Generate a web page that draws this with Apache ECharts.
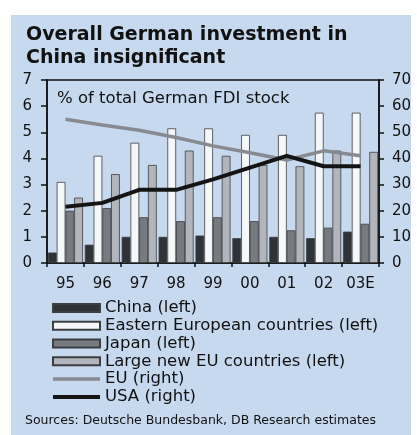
<!DOCTYPE html>
<html>
<head>
<meta charset="utf-8">
<script src="https://cdn.jsdelivr.net/npm/echarts@6/dist/echarts.min.js"></script>
<style>
  html, body { margin: 0; padding: 0; background: #ffffff; }
  #chart { width: 417px; height: 435px; }
</style>
</head>
<body>
<div id="chart"></div>
<script>
// Years on the category axis
const years = ['95', '96', '97', '98', '99', '00', '01', '02', '03E'];

// Share of total German FDI stock, % (left axis)
const china = [0.4, 0.7, 1.0, 1.0, 1.05, 0.95, 1.0, 0.95, 1.2];
const easternEurope = [3.1, 4.1, 4.6, 5.15, 5.15, 4.9, 4.9, 5.75, 5.75];
const japan = [2.0, 2.1, 1.75, 1.6, 1.75, 1.6, 1.25, 1.35, 1.5];
const largeNewEU = [2.5, 3.4, 3.75, 4.3, 4.1, 3.75, 3.7, 4.3, 4.25];

// Share of total German FDI stock, % (right axis)
const eu = [55, 52.8, 50.8, 48, 44.8, 42.2, 39.4, 42.9, 41];
const usa = [21.5, 23, 28, 28, 32, 36.5, 41, 37, 37];

// Axis ranges
const leftMax = 7, leftStep = 1;
const rightMax = 70, rightStep = 10;

const FONT = 'DejaVu Sans';
const INK = '#111111';
const PANEL = '#c7d9ef';
const EU_COLOR = '#878b91';
const USA_COLOR = '#141414';

const chart = echarts.init(document.getElementById('chart'), null, { renderer: 'canvas' });

function barSeries(name, data, color) {
  return {
    name: name,
    type: 'bar',
    data: data,
    yAxisIndex: 0,
    barGap: '0%',
    barCategoryGap: '5%',
    itemStyle: { color: color, borderColor: '#3c3f42', borderWidth: 0.8 },
    emphasis: { disabled: true }
  };
}

chart.setOption({
  animation: false,
  backgroundColor: '#ffffff',
  textStyle: { fontFamily: FONT, color: INK },
  graphic: [
    {
      type: 'rect', z: -10, silent: true,
      shape: { x: 11, y: 15, width: 400, height: 420 },
      style: { fill: PANEL }
    },
    {
      type: 'text', left: 57, top: 90, z: 10,
      style: { text: '% of total German FDI stock', font: '16.5px "DejaVu Sans"', fill: INK }
    },
    {
      type: 'text', left: 25, top: 414, z: 10,
      style: { text: 'Sources: Deutsche Bundesbank, DB Research estimates', font: '12.5px "DejaVu Sans"', fill: INK }
    }
  ],
  title: {
    text: 'Overall German investment in\nChina insignificant',
    left: 26, top: 23, padding: 0,
    textStyle: { fontFamily: FONT, fontWeight: 'bold', fontSize: 19, lineHeight: 23.3, color: INK }
  },
  legend: {
    orient: 'vertical',
    left: 51, top: 299, padding: 0,
    itemWidth: 47, itemHeight: 8, itemGap: 0,
    selectedMode: false,
    textStyle: { fontFamily: FONT, fontSize: 16.5, lineHeight: 17.8, color: INK },
    data: [
      { name: 'China (left)', icon: 'rect' },
      { name: 'Eastern European countries (left)', icon: 'rect' },
      { name: 'Japan (left)', icon: 'rect' },
      { name: 'Large new EU countries (left)', icon: 'rect' },
      { name: 'EU (right)', itemStyle: { opacity: 0 }, lineStyle: { color: EU_COLOR, width: 3.5 } },
      { name: 'USA (right)', itemStyle: { opacity: 0 }, lineStyle: { color: USA_COLOR, width: 4 } }
    ]
  },
  grid: {
    left: 47, right: 38, top: 80, bottom: 172,
    show: true, borderColor: '#111', borderWidth: 1.5, backgroundColor: 'transparent'
  },
  xAxis: {
    type: 'category',
    data: years,
    boundaryGap: true,
    axisLine: { lineStyle: { color: '#111', width: 1.5 } },
    axisTick: { show: true, length: 4, interval: 0, lineStyle: { color: '#111', width: 1.5 } },
    axisLabel: { fontFamily: FONT, fontSize: 15, color: INK, margin: 14, interval: 0 }
  },
  yAxis: [
    {
      type: 'value', min: 0, max: leftMax, interval: leftStep, position: 'left',
      splitLine: { show: false },
      axisLine: { show: true, lineStyle: { color: '#111', width: 1.5 } },
      axisTick: { show: true, length: 6, lineStyle: { color: '#111', width: 1.5 } },
      axisLabel: { fontFamily: FONT, fontSize: 15, color: INK, margin: 15 }
    },
    {
      type: 'value', min: 0, max: rightMax, interval: rightStep, position: 'right',
      splitLine: { show: false },
      axisLine: { show: true, lineStyle: { color: '#111', width: 1.5 } },
      axisTick: { show: true, length: 5, lineStyle: { color: '#111', width: 1.5 } },
      axisLabel: { fontFamily: FONT, fontSize: 15, color: INK, margin: 13 }
    }
  ],
  series: [
    barSeries('China (left)', china, '#2f3337'),
    barSeries('Eastern European countries (left)', easternEurope, '#f6f7f8'),
    barSeries('Japan (left)', japan, '#777b80'),
    barSeries('Large new EU countries (left)', largeNewEU, '#b2b6bc'),
    {
      name: 'EU (right)', type: 'line', yAxisIndex: 1, data: eu,
      symbol: 'none', z: 5,
      lineStyle: { color: EU_COLOR, width: 3.5 },
      itemStyle: { color: EU_COLOR },
      emphasis: { disabled: true }
    },
    {
      name: 'USA (right)', type: 'line', yAxisIndex: 1, data: usa,
      symbol: 'none', z: 6,
      lineStyle: { color: USA_COLOR, width: 4 },
      itemStyle: { color: USA_COLOR },
      emphasis: { disabled: true }
    }
  ]
});
</script>
</body>
</html>
